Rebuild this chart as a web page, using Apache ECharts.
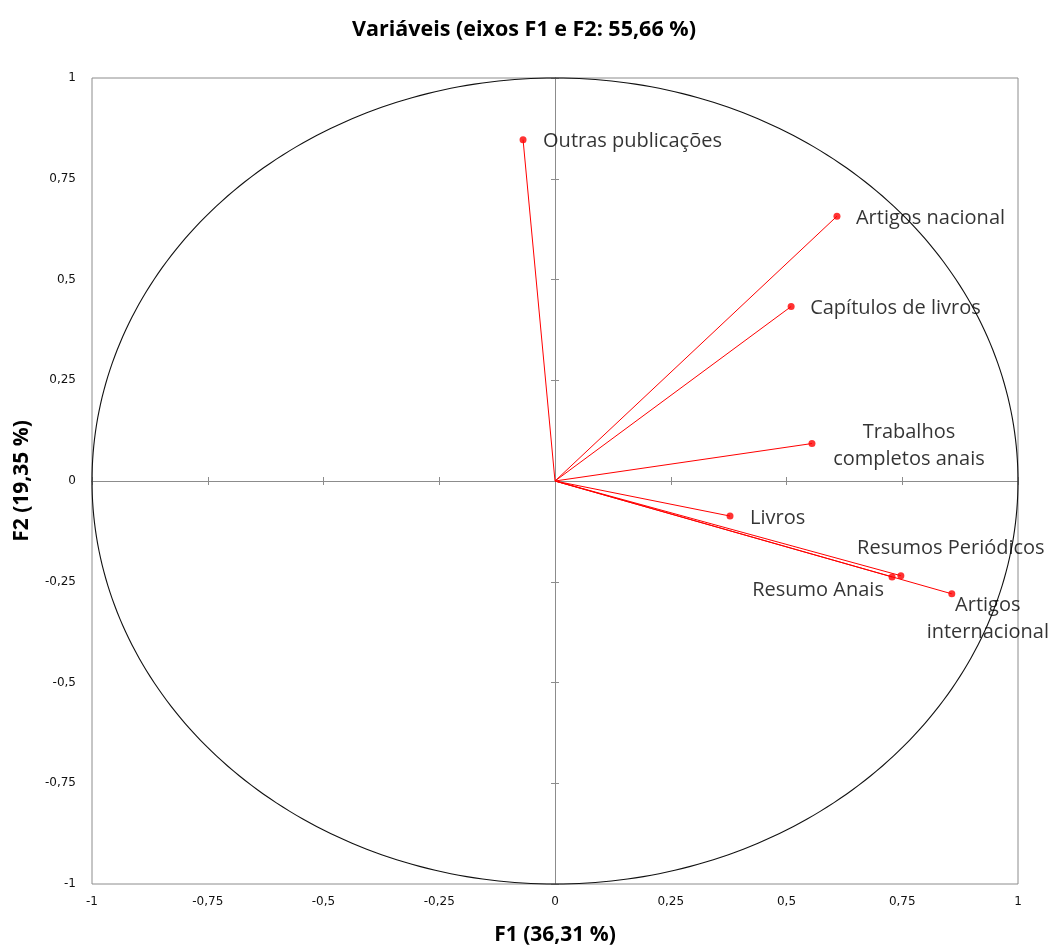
<!DOCTYPE html>
<html>
<head>
<meta charset="utf-8">
<script src="https://cdn.jsdelivr.net/npm/echarts@6/dist/echarts.min.js"></script>
<style>html,body{margin:0;padding:0;background:#fff}#c{width:1054px;height:951px}</style>
</head>
<body>
<div id="c"></div>
<script>
// ---- data ----
const variables = ['Outras publicações', 'Artigos nacional', 'Capítulos de livros', 'Trabalhos\ncompletos anais', 'Livros', 'Resumo Anais', 'Resumos Periódicos', 'Artigos\ninternacional'];
const f1 = [-0.069, 0.609, 0.510, 0.555, 0.378, 0.728, 0.747, 0.857];
const f2 = [0.847, 0.657, 0.433, 0.093, -0.087, -0.238, -0.235, -0.280];
const axisTicks = [-1, -0.75, -0.5, -0.25, 0, 0.25, 0.5, 0.75, 1];
const circleDef = [[0, 0, 1]]; // centre F1, centre F2, radius

// ---- label placement (style) ----
const labelPlace = {
  'Outras publicações': { align: 'left', offset: [20, 2] },
  'Artigos nacional': { align: 'left', offset: [19, 2] },
  'Capítulos de livros': { align: 'left', offset: [19, 2] },
  'Trabalhos\ncompletos anais': { align: 'center', offset: [97, 2] },
  'Livros': { align: 'left', offset: [20, 2] },
  'Resumo Anais': { align: 'center', offset: [-74, 13] },
  'Resumos Periódicos': { align: 'center', offset: [50, -27] },
  'Artigos\ninternacional': { align: 'center', offset: [36, 25] }
};

const fmt = v => String(v).replace('.', ',');
const points = variables.map((n, i) => [f1[i], f2[i], n]);

const chart = echarts.init(document.getElementById('c'), null, { renderer: 'canvas' });
const base = { type: 'value', min: axisTicks[0], max: axisTicks[axisTicks.length - 1], interval: 0.25, splitLine: { show: false } };
const axisColor = '#8c8c8c';
const nameStyle = { fontFamily: 'Open Sans', fontSize: 21, fontWeight: 'bold', color: '#000' };

chart.setOption({
  animation: false,
  backgroundColor: '#fff',
  title: {
    text: 'Variáveis (eixos F1 e F2: 55,66 %)',
    left: 347, top: 14,
    textStyle: Object.assign({}, nameStyle, { fontSize: 21.5 })
  },
  grid: { left: 92, right: 36, top: 78, bottom: 63, show: true, borderColor: axisColor, borderWidth: 1, backgroundColor: 'transparent' },
  xAxis: [
    Object.assign({}, base, {
      position: 'bottom',
      axisLine: { show: false, onZero: false }, axisTick: { show: false },
      axisLabel: { formatter: fmt, margin: 12, fontFamily: 'DejaVu Sans', fontSize: 12, color: '#111' },
      name: 'F1 (36,31 %)', nameLocation: 'middle', nameGap: 41,
      nameTextStyle: nameStyle
    }),
    Object.assign({}, base, {
      position: 'bottom',
      axisLine: { show: true, onZero: true, lineStyle: { color: axisColor, width: 1 } },
      axisTick: { show: true, length: 4, lineStyle: { color: axisColor } },
      axisLabel: { show: false }
    }),
    Object.assign({}, base, {
      position: 'bottom',
      axisLine: { show: true, onZero: true, lineStyle: { color: axisColor, width: 1 } },
      axisTick: { show: true, inside: true, length: 4, lineStyle: { color: axisColor } },
      axisLabel: { show: false }
    })
  ],
  yAxis: [
    Object.assign({}, base, {
      position: 'left',
      axisLine: { show: false, onZero: false }, axisTick: { show: false },
      axisLabel: { formatter: fmt, margin: 16, fontFamily: 'DejaVu Sans', fontSize: 12, color: '#111' },
      name: 'F2 (19,35 %)', nameLocation: 'middle', nameGap: 59,
      nameTextStyle: nameStyle
    }),
    Object.assign({}, base, {
      position: 'left',
      axisLine: { show: true, onZero: true, lineStyle: { color: axisColor, width: 1 } },
      axisTick: { show: true, length: 4, lineStyle: { color: axisColor } },
      axisLabel: { show: false }
    }),
    Object.assign({}, base, {
      position: 'left',
      axisLine: { show: true, onZero: true, lineStyle: { color: axisColor, width: 1 } },
      axisTick: { show: true, inside: true, length: 4, lineStyle: { color: axisColor } },
      axisLabel: { show: false }
    })
  ],
  series: [
    {
      type: 'custom', name: 'circle', silent: true,
      data: circleDef,
      encode: { x: 0, y: 1 },
      renderItem: function (params, api) {
        const cx = api.value(0), cy = api.value(1), r = api.value(2);
        const pts = [];
        for (let k = 0; k <= 360; k++) {
          const t = k * Math.PI / 180;
          pts.push(api.coord([cx + r * Math.cos(t), cy + r * Math.sin(t)]));
        }
        return { type: 'polyline', shape: { points: pts }, style: { stroke: '#111', lineWidth: 1.1, fill: null } };
      },
      z: 1
    },
    {
      type: 'custom', name: 'vectors', silent: true,
      data: points,
      encode: { x: 0, y: 1 },
      renderItem: function (params, api) {
        const o = api.coord([0, 0]);
        const p = api.coord([api.value(0), api.value(1)]);
        return { type: 'line', shape: { x1: o[0], y1: o[1], x2: p[0], y2: p[1] }, style: { stroke: '#ff0000', lineWidth: 1 } };
      },
      z: 2
    },
    {
      type: 'scatter', name: 'vars',
      data: points.map(p => ({
        value: p,
        label: {
          show: true, position: 'inside', align: labelPlace[p[2]].align, verticalAlign: 'middle',
          offset: labelPlace[p[2]].offset
        }
      })),
      symbol: 'circle', symbolSize: 7,
      itemStyle: { color: '#ff0000' },
      label: {
        show: true, formatter: pr => pr.value[2],
        fontFamily: 'Open Sans', fontSize: 20, color: '#000', lineHeight: 27
      },
      z: 3
    }
  ]
});
</script>
</body>
</html>
